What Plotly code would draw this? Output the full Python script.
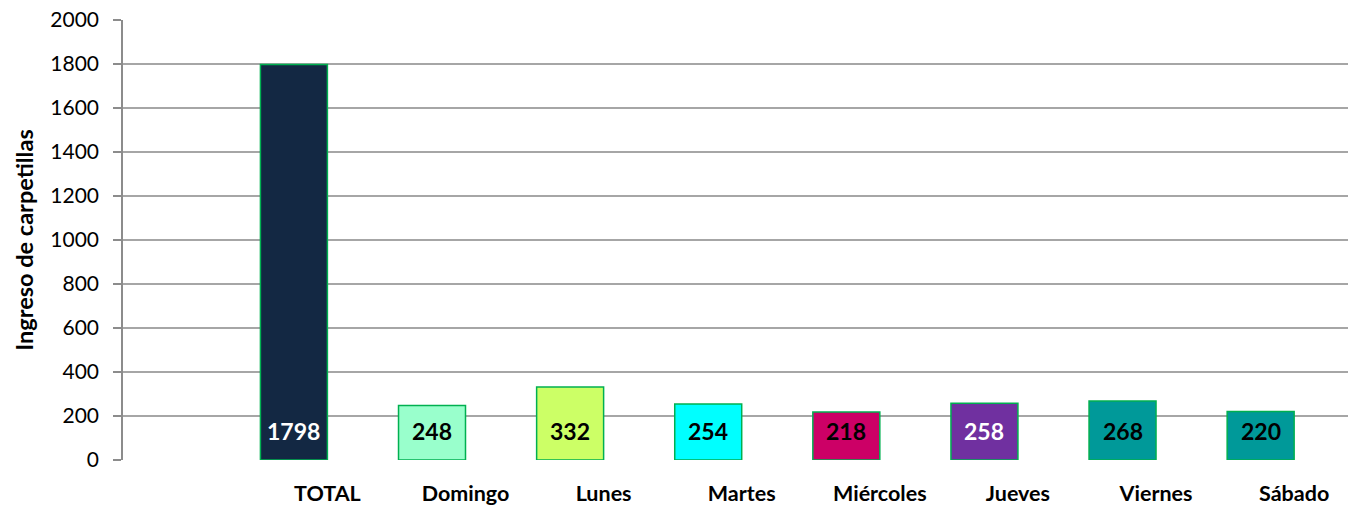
import plotly.graph_objects as go

categories = ["TOTAL", "Domingo", "Lunes", "Martes", "Miércoles", "Jueves", "Viernes", "Sábado"]
values = [1798, 248, 332, 254, 218, 258, 268, 220]
bar_colors = ["#132843", "#99ffcc", "#ccff66", "#00ffff", "#cc0066", "#7030a0", "#009999", "#009999"]
label_colors = ["white", "black", "black", "black", "black", "white", "black", "black"]
y_ticks = list(range(0, 2001, 200))

FONT = "Lato"

fig = go.Figure()
fig.add_trace(go.Bar(
    x=categories,
    y=values,
    marker=dict(color=bar_colors, line=dict(color="#00b050", width=1.5)),
    width=0.485,
    offset=-0.485,
    hoverinfo="skip",
))

# value labels near the base of each bar
for cat, val, col in zip(categories, values, label_colors):
    fig.add_annotation(
        x=cat, y=0, xref="x", yref="y",
        text=f"<b>{val}</b>",
        showarrow=False,
        xanchor="center", yanchor="bottom",
        xshift=-33.5, yshift=13,
        font=dict(family=FONT, size=23, color=col),
    )

fig.update_layout(
    width=1348, height=507,
    margin=dict(l=123, r=0, t=20, b=47),
    paper_bgcolor="white", plot_bgcolor="white",
    showlegend=False,
    font=dict(family=FONT, color="black"),
)
fig.update_xaxes(
    type="category",
    categoryorder="array", categoryarray=categories,
    range=[-1.48, 7.39],
    showgrid=False,
    showline=False,
    ticks="",
    automargin=False,
    tickfont=dict(family=FONT, size=21.5, color="black", weight="bold"),
    ticklabelstandoff=18,
)
fig.update_yaxes(
    range=[0, 2000],
    tickvals=y_ticks,
    automargin=False,
    showgrid=True, gridcolor="#a6a6a6", gridwidth=1.5,
    showline=True, linecolor="#8c8c8c", linewidth=1.5,
    ticks="outside", ticklen=8, tickcolor="#8c8c8c", tickwidth=1.5,
    tickfont=dict(family=FONT, size=21, color="black"),
    ticklabelstandoff=10,
    title=dict(text="Ingreso de carpetillas", standoff=10,
               font=dict(family=FONT, size=23.5, color="black", weight="bold")),
    zeroline=False,
)

fig.write_html(
    "out.html",
    config={"displayModeBar": False},
    post_script="document.body.style.margin='0';document.body.style.overflow='hidden';",
)
